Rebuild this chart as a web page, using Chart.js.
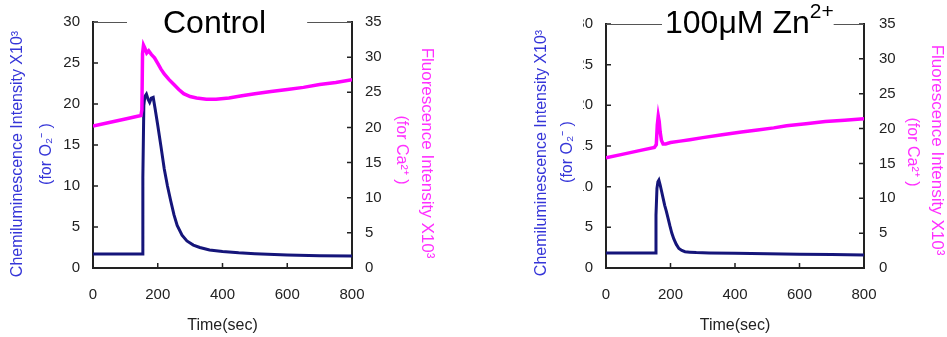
<!DOCTYPE html>
<html>
<head>
<meta charset="utf-8">
<script src="https://cdn.jsdelivr.net/npm/chart.js@4.4.1/dist/chart.umd.min.js"></script>
<style>
  html, body { margin: 0; padding: 0; background: #fff; }
  #wrap { position: relative; width: 947px; height: 337px; overflow: hidden; }
  canvas { position: absolute; top: 0; }
  #cL { left: 0; }
  #cR { left: 473px; }
</style>
</head>
<body>
<div id="wrap">
  <canvas id="cL" width="473" height="337"></canvas>
  <canvas id="cR" width="474" height="337"></canvas>
</div>
<script>
/* O2- chemiluminescence + Ca2+ fluorescence, control vs 100uM Zn2+ */
const FONT = "'Liberation Sans', Arial, Helvetica, sans-serif";

// time axis (sec) and y ranges
const X_MAX = 800, X_STEP = 200;
const Y_MAX = 30, Y2_MAX = 35, Y_STEP = 5;

// Control — chemiluminescence (left axis)
const ctrlO2T = [0, 100, 150, 152, 154, 157, 160, 165, 170, 175, 180, 186, 192, 200, 210, 220, 230, 240, 250, 260, 275, 290, 310, 330, 360, 400, 450, 500, 600, 700, 800];
const ctrlO2V = [1.7, 1.7, 1.7, 1.7, 11.0, 19.8, 20.9, 21.2, 20.6, 20.2, 20.7, 20.8, 19.4, 17.4, 14.8, 12.1, 10.0, 8.2, 6.5, 5.2, 4.0, 3.3, 2.8, 2.5, 2.2, 2.0, 1.85, 1.75, 1.6, 1.5, 1.45];
// Control — fluorescence (right axis)
const ctrlCaT = [0, 50, 100, 148, 151, 153, 156, 160, 166, 172, 180, 190, 200, 210, 220, 235, 250, 265, 280, 300, 320, 350, 380, 420, 460, 500, 550, 600, 650, 700, 750, 800];
const ctrlCaV = [20.2, 20.7, 21.2, 21.7, 22.5, 30.5, 31.7, 31.3, 30.6, 30.9, 30.4, 29.9, 29.1, 28.3, 27.6, 26.8, 26.1, 25.4, 24.8, 24.4, 24.2, 24.0, 24.0, 24.2, 24.5, 24.8, 25.1, 25.4, 25.7, 26.1, 26.4, 26.8];

// 100uM Zn2+ — chemiluminescence
const znO2T = [0, 100, 150, 153, 155, 158, 161, 164, 168, 172, 177, 182, 187, 192, 198, 204, 210, 218, 226, 235, 245, 260, 280, 320, 400, 500, 600, 700, 800];
const znO2V = [1.85, 1.85, 1.85, 1.85, 6.5, 9.8, 10.6, 10.8, 10.2, 9.5, 8.6, 7.7, 7.0, 6.2, 5.2, 4.3, 3.6, 2.9, 2.4, 2.15, 2.0, 1.95, 1.9, 1.85, 1.8, 1.75, 1.7, 1.65, 1.6];
// 100uM Zn2+ — fluorescence
const znCaT = [0, 50, 100, 150, 156, 159, 162, 165, 168, 172, 177, 185, 200, 230, 260, 300, 360, 420, 470, 520, 560, 620, 680, 740, 800];
const znCaV = [15.8, 16.3, 16.8, 17.3, 17.7, 20.5, 21.8, 21.0, 19.5, 18.3, 17.8, 17.8, 18.0, 18.2, 18.4, 18.7, 19.1, 19.5, 19.8, 20.1, 20.4, 20.7, 21.0, 21.2, 21.4];

const zip = (t, v) => t.map((x, i) => ({ x, y: v[i] }));

// inward ticks, top border with gap for the panel title, rotated axis titles
const frame = {
  id: "frame",
  afterDraw(chart, args, o) {
    const { ctx, chartArea: a } = chart;
    ctx.save();
    ctx.strokeStyle = "#222"; ctx.lineWidth = 1.5;
    ctx.beginPath();
    for (const id of ["x", "y", "y2"]) {
      const s = chart.scales[id];
      s.ticks.forEach((t) => {
        const p = s.getPixelForValue(t.value);
        if (id === "x") { ctx.moveTo(p, a.bottom); ctx.lineTo(p, a.bottom - 5); }
        else if (id === "y") { ctx.moveTo(a.left, p); ctx.lineTo(a.left + 5, p); }
        else { ctx.moveTo(a.right, p); ctx.lineTo(a.right - 5, p); }
      });
    }
    ctx.stroke();

    ctx.font = `${o.size}px ${FONT}`;
    const w = ctx.measureText(o.text).width;
    ctx.font = `${o.supSize}px ${FONT}`;
    const ws = o.sup ? ctx.measureText(o.sup).width : 0;
    const x0 = o.x, x1 = o.x + w + ws;
    ctx.strokeStyle = "#555"; ctx.lineWidth = 1;
    ctx.beginPath();
    ctx.moveTo(a.left, a.top + 0.5); ctx.lineTo(x0 - o.padL, a.top + 0.5);
    ctx.moveTo(x1 + o.padR, a.top + 0.5); ctx.lineTo(a.right, a.top + 0.5);
    ctx.stroke();
    ctx.fillStyle = "#000"; ctx.textAlign = "left"; ctx.textBaseline = "alphabetic";
    ctx.font = `${o.size}px ${FONT}`;
    ctx.fillText(o.text, x0, o.base);
    if (o.sup) { ctx.font = `${o.supSize}px ${FONT}`; ctx.fillText(o.sup, x0 + w, o.supBase); }

    if (o.cover) { ctx.fillStyle = "#fff"; ctx.fillRect(0, 0, o.cover, 282); }
    for (const t of o.yTitles) {
      ctx.save();
      ctx.translate(t.x, t.y);
      ctx.rotate(t.rot);
      ctx.fillStyle = t.color; ctx.font = `${t.size || 16}px ${FONT}`;
      ctx.textAlign = "center"; ctx.textBaseline = "middle";
      ctx.fillText(t.text, 0, 0);
      ctx.restore();
    }
    ctx.restore();
  },
};

function config(o2, ca, leftW, rightW, y2Pad, frameOpts) {
  const tickFont = { family: FONT, size: 15 };
  const axisBorder = { display: true, color: "#222", width: 2 };
  return {
    type: "line",
    data: {
      datasets: [
        { data: ca, yAxisID: "y2", borderColor: "#ff00ff", borderWidth: 3.5, pointRadius: 0, tension: 0 },
        { data: o2, yAxisID: "y", borderColor: "#15157a", borderWidth: 3, pointRadius: 0, tension: 0 },
      ],
    },
    options: {
      responsive: false, animation: false, devicePixelRatio: 1,
      layout: { padding: { top: 20, left: 0, right: 0, bottom: 0 } },
      plugins: { legend: { display: false }, tooltip: { enabled: false }, frame: frameOpts },
      scales: {
        x: {
          type: "linear", min: 0, max: X_MAX,
          ticks: { stepSize: X_STEP, font: tickFont, color: "#222", padding: 18, maxRotation: 0 },
          grid: { display: false, drawTicks: false }, border: axisBorder,
          title: { display: true, text: "Time(sec)", color: "#222", font: { family: FONT, size: 16 }, padding: { top: 0, bottom: 2 } },
          afterFit: (s) => { s.height = 69; },
        },
        y: {
          position: "left", min: 0, max: Y_MAX,
          ticks: { stepSize: Y_STEP, font: tickFont, color: "#222", padding: 13 },
          grid: { display: false, drawTicks: false }, border: axisBorder,
          afterFit: (s) => { s.width = leftW; },
        },
        y2: {
          position: "right", min: 0, max: Y2_MAX,
          ticks: { stepSize: Y_STEP, font: tickFont, color: "#222", padding: y2Pad },
          grid: { display: false, drawTicks: false }, border: axisBorder,
          afterFit: (s) => { s.width = rightW; },
        },
      },
    },
    plugins: [frame],
  };
}

const BLUE = "#3535d8", PINK = "#ff30ff";
const L_TITLE = "Chemiluminescence Intensity X10³", L_SUB = "(for O₂⁻ )";
const R_TITLE = "Fluorescence Intensity X10³", R_SUB = "(for Ca²⁺ )";

new Chart(document.getElementById("cL"), config(zip(ctrlO2T, ctrlO2V), zip(ctrlCaT, ctrlCaV), 93, 121, 13, {
  text: "Control", sup: "", size: 32, supSize: 21, x: 163, base: 33, supBase: 18, padL: 36, padR: 41, cover: 0,
  yTitles: [
    { text: L_TITLE, x: 18, y: 154, rot: -Math.PI / 2, color: BLUE },
    { text: L_SUB, x: 47, y: 154, rot: -Math.PI / 2, color: BLUE },
    { text: R_TITLE, x: 427, y: 153, rot: Math.PI / 2, color: PINK, size: 17 },
    { text: R_SUB, x: 401, y: 150, rot: Math.PI / 2, color: PINK },
  ],
}));

new Chart(document.getElementById("cR"), config(zip(znO2T, znO2V), zip(znCaT, znCaV), 133, 83, 15, {
  text: "100μM Zn", sup: "2+", size: 32, supSize: 21, x: 192, base: 33, supBase: 18, padL: 3, padR: 0, cover: 110,
  yTitles: [
    { text: L_TITLE, x: 69, y: 153, rot: -Math.PI / 2, color: BLUE },
    { text: L_SUB, x: 95, y: 152, rot: -Math.PI / 2, color: BLUE },
    { text: R_TITLE, x: 464, y: 150, rot: Math.PI / 2, color: PINK, size: 17 },
    { text: R_SUB, x: 439, y: 152, rot: Math.PI / 2, color: PINK },
  ],
}));
</script>
</body>
</html>
